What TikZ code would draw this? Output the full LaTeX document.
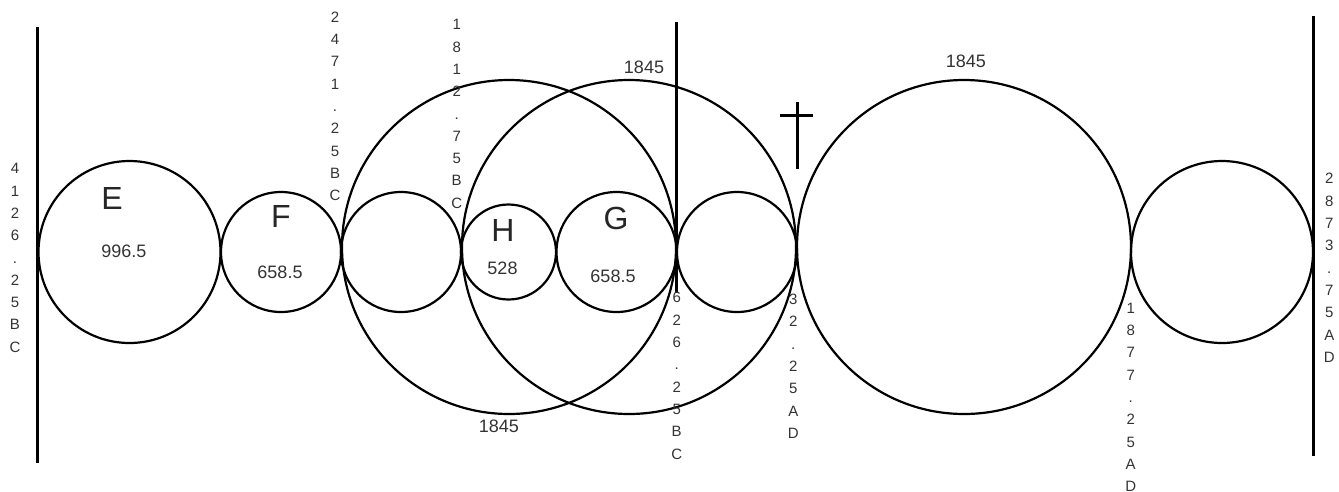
\documentclass[tikz,border=0pt]{standalone}
\usepackage{fontspec}
\setmainfont{Liberation Sans}
\usetikzlibrary{positioning}

\begin{document}
\begin{tikzpicture}[
  x=1pt, y=-1pt,
  ring/.style={draw, circle, line width=2.2pt, inner sep=0pt},
  bar/.style={line width=3pt},
  datecol/.style={font=\fontsize{15}{22.3}\selectfont, align=center,
    inner sep=0pt, anchor=north, text=black!80},
  years/.style={font=\fontsize{18}{20}\selectfont, inner sep=0pt,
    anchor=base, text=black!80},
  epoch/.style={font=\fontsize{32}{36}\selectfont, inner sep=0pt,
    anchor=base, text=black!85}
]
  \useasboundingbox (0,0) rectangle (1339,491);

  % the circles
  \node[ring, minimum size=182pt] (E)  at (129.5,252) {};
  \node[ring, minimum size=120pt] (F)  at (281,252)   {};
  \node[ring, minimum size=120pt] (c1) at (401,252)   {};
  \node[ring, minimum size=95pt]  (H)  at (508.5,252) {};
  \node[ring, minimum size=120pt] (G)  at (616.5,252) {};
  \node[ring, minimum size=120pt] (c2) at (737,252)   {};
  \node[ring, minimum size=334pt] (b1) at (509,247)   {};
  \node[ring, minimum size=334pt] (b2) at (629,247)   {};
  \node[ring, minimum size=334pt] (b3) at (964,247)   {};
  \node[ring, minimum size=182pt] (R)  at (1222,252)  {};

  % borders and cross
  \draw[bar] (37.7,27) -- (37.7,463);
  \draw[bar] (676.7,22) -- (676.7,293);
  \draw[bar] (1313.3,16) -- (1313.3,456);
  \draw[bar] (797.7,102) -- (797.7,169);
  \draw[bar] (780,115) -- (813.3,115);

  % letters and spans
  \node[epoch] (lE) at (112,209)   {E};
  \node[epoch] (lF) at (281,227.7) {F};
  \node[epoch] (lH) at (502.8,241.7) {H};
  \node[epoch] (lG) at (616,229.5) {G};
  \node[years] (nE) at (123.8,257.3) {996.5};
  \node[years] (nF) at (280,278.3) {658.5};
  \node[years] (nH) at (502.5,274) {528};
  \node[years] (nG) at (613,282) {658.5};
  \node[years] (n1) at (644,73.3)  {1845};
  \node[years] (n2) at (498.8,432.7) {1845};
  \node[years] (n3) at (965.8,67.7) {1845};

  % dates, one character a line
  \node[datecol] (d1) at (15,163.3)   {4\\1\\2\\6\\.\\2\\5\\B\\C};
  \node[datecol] (d2) at (335,11.7)   {2\\4\\7\\1\\.\\2\\5\\B\\C};
  \node[datecol] (d3) at (456.7,19.3) {1\\8\\1\\2\\.\\7\\5\\B\\C};
  \node[datecol] (d4) at (676.7,292.3) {6\\2\\6\\.\\2\\5\\B\\C};
  \node[datecol] (d5) at (793.3,294)  {3\\2\\.\\2\\5\\A\\D};
  \node[datecol] (d6) at (1130.7,302.7) {1\\8\\7\\7\\.\\2\\5\\A\\D};
  \node[datecol] (d7) at (1329.3,173.3) {2\\8\\7\\3\\.\\7\\5\\A\\D};
\end{tikzpicture}
\end{document}
